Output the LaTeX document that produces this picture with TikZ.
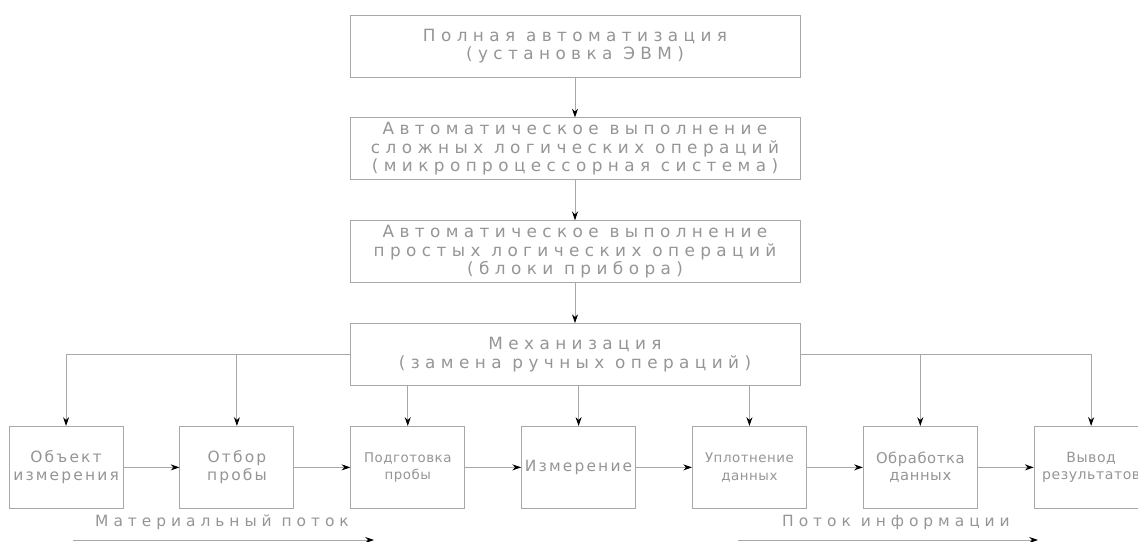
\documentclass[tikz,border=0pt]{standalone}
\usepackage{fontspec}
\setmainfont{DejaVu Sans}
\newfontfamily\cadfont[LetterSpace=32]{DejaVu Sans}
\newfontfamily\cadsmall[LetterSpace=14]{DejaVu Sans}
\newfontfamily\cadtight[LetterSpace=4]{DejaVu Sans}
\usepackage{tikz}
\usetikzlibrary{arrows.meta, positioning}
\definecolor{framegray}{HTML}{A8A8A8}
\definecolor{textgray}{HTML}{959595}

\begin{document}
\begin{tikzpicture}[
    node distance=1.0cm and 1.4cm,
    level/.style={draw=framegray, line width=0.6pt, minimum width=11.25cm, minimum height=1.55cm, align=center, inner sep=1pt, text=textgray, font=\cadfont\fontsize{12}{13.3}\selectfont},
    unit/.style={draw=framegray, line width=0.6pt, minimum width=2.85cm, minimum height=2.05cm, text width=2.85cm, align=center, inner sep=0pt, text=textgray, font=\cadsmall\fontsize{11}{12.5}\selectfont},
    flow/.style={text=textgray, font=\cadfont\fontsize{11}{13}\selectfont},
    arrow/.style={-{Stealth[length=2.2mm, width=1.5mm, color=black]}, draw=framegray, line width=0.6pt}
]
    \useasboundingbox (0,0) rectangle (28.45,-13.525);

    % levels of automation
    \node[level] (full) at (14.375,-1.15) {Полная автоматизация\\(установка ЭВМ)};
    \node[level, below=of full] (micro) {Автоматическое выполнение\\сложных логических операций\\(микропроцессорная система)};
    \node[level, below=of micro] (blocks) {Автоматическое выполнение\\простых логических операций\\(блоки прибора)};
    \node[level, below=of blocks] (mech) {Механизация\\(замена ручных операций)};

    % measurement chain
    \node[unit, below=of mech, xshift=0.09cm] (meas) {Измерение};
    \node[unit, left=of meas] (prep) {{\cadtight\fontsize{9.5}{11}\selectfont Подготовка\\пробы}};
    \node[unit, left=of prep] (probe) {Отбор\\пробы};
    \node[unit, left=of probe] (obj) {Объект\\измерения};
    \node[unit, right=of meas] (pack) {{\cadtight\fontsize{9.5}{11}\selectfont Уплотнение\\данных}};
    \node[unit, right=of pack] (proc) {{\cadtight\fontsize{10.5}{12}\selectfont Обработка\\данных}};
    \node[unit, right=of proc] (out) {{\cadtight\fontsize{10}{11.5}\selectfont Вывод\\результатов}};

    % flow labels
    \node[flow] (matlabel) at (5.55,-13.05) {Материальный поток};
    \node[flow] (infolabel) at (22.4,-13.05) {Поток информации};
    \coordinate (matA) at (1.83,-13.5);
    \coordinate (matB) at (9.35,-13.5);
    \coordinate (infoA) at (18.45,-13.5);
    \coordinate (infoB) at (25.95,-13.5);

    % Arrows
    \draw[arrow] (full) -- (micro);
    \draw[arrow] (micro) -- (blocks);
    \draw[arrow] (blocks) -- (mech);
    \draw[arrow] (mech.west) -| (obj.north);
    \draw[arrow] (probe.north |- mech.west) -- (probe.north);
    \draw[arrow] (prep.north |- mech.south) -- (prep.north);
    \draw[arrow] (meas.north |- mech.south) -- (meas.north);
    \draw[arrow] (pack.north |- mech.south) -- (pack.north);
    \draw[arrow] (mech.east) -| (out.north);
    \draw[arrow] (proc.north |- mech.east) -- (proc.north);
    \draw[arrow] (obj) -- (probe);
    \draw[arrow] (probe) -- (prep);
    \draw[arrow] (prep) -- (meas);
    \draw[arrow] (meas) -- (pack);
    \draw[arrow] (pack) -- (proc);
    \draw[arrow] (proc) -- (out);
    \draw[arrow] (matA) -- (matB);
    \draw[arrow] (infoA) -- (infoB);
\end{tikzpicture}
\end{document}
